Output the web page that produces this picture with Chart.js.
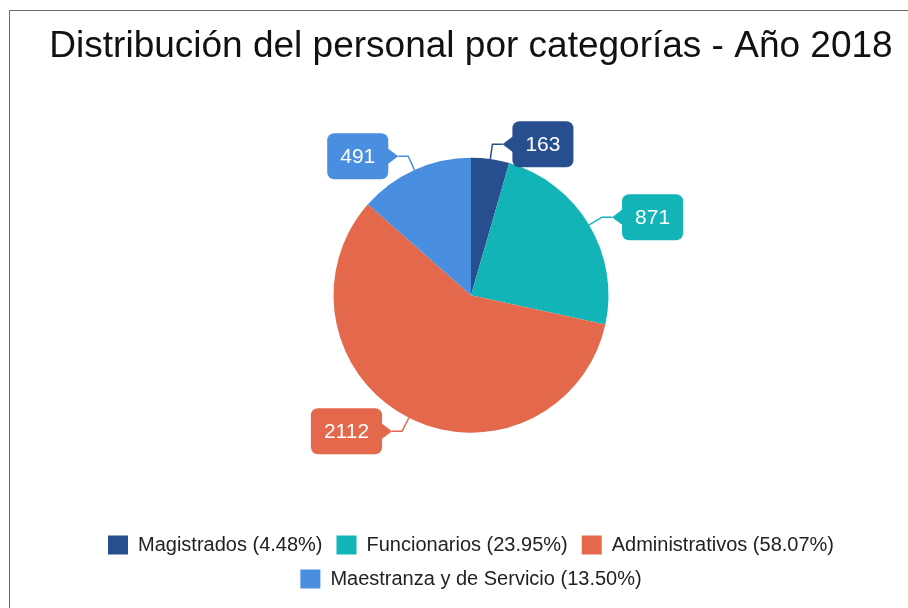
<!DOCTYPE html>
<html lang="es">
<head>
  <meta charset="UTF-8">
  <title>Distribución del personal por categorías - Año 2018</title>
  <script src="https://cdn.jsdelivr.net/npm/chart.js"></script>
  <style>
    html, body { margin: 0; padding: 0; background: #fff; overflow: hidden; }
    .frame {
      position: absolute; left: 9px; top: 10px;
      width: 922px; height: 598px;
      border-left: 1px solid #6a6a6a; border-top: 1px solid #6a6a6a;
    }
    .frame canvas { display: block; }
  </style>
</head>
<body>
  <div class="frame">
    <canvas id="pieChart" width="922" height="598"></canvas>
  </div>

  <script>
    // Datos
    const categories = ['Magistrados', 'Funcionarios', 'Administrativos', 'Maestranza y de Servicio'];
    const personal = [163, 871, 2112, 491];
    const colors = ['#274f8f', '#12b4b8', '#e4694c', '#4a8fdf'];

    const total = personal.reduce((a, b) => a + b, 0);
    const legendLabels = categories.map((c, i) => c + ' (' + (personal[i] / total * 100).toFixed(2) + '%)');

    const FONT = "'Liberation Sans', Arial, sans-serif";

    // Etiquetas tipo globo con línea guía
    const calloutPlugin = {
      id: 'callouts',
      afterDatasetsDraw(chart) {
        const ctx = chart.ctx;
        const meta = chart.getDatasetMeta(0);
        ctx.save();
        ctx.font = '21px ' + FONT;
        meta.data.forEach((arc, i) => {
          const p = arc.getProps(['x', 'y', 'startAngle', 'endAngle', 'outerRadius'], true);
          const mid = (p.startAngle + p.endAngle) / 2;
          const cos = Math.cos(mid), sin = Math.sin(mid);
          const ex = p.x + cos * p.outerRadius, ey = p.y + sin * p.outerRadius;
          const bx = p.x + cos * (p.outerRadius + 15), by = p.y + sin * (p.outerRadius + 15);
          const dir = cos >= 0 ? 1 : -1;
          const tipX = bx + dir * 10;
          const text = String(personal[i]);
          const w = ctx.measureText(text).width + 26;
          const h = 46;
          const boxNear = tipX + dir * 10;
          const left = dir > 0 ? boxNear : boxNear - w;
          const top = by - h / 2;

          ctx.strokeStyle = colors[i];
          ctx.lineWidth = 1.5;
          ctx.beginPath();
          ctx.moveTo(ex, ey);
          ctx.lineTo(bx, by);
          ctx.lineTo(tipX, by);
          ctx.stroke();

          ctx.fillStyle = colors[i];
          ctx.beginPath();
          ctx.roundRect(left, top, w, h, 7);
          ctx.fill();
          ctx.beginPath();
          ctx.moveTo(tipX, by);
          ctx.lineTo(boxNear + dir * 2, by - 9);
          ctx.lineTo(boxNear + dir * 2, by + 9);
          ctx.closePath();
          ctx.fill();

          ctx.fillStyle = '#ffffff';
          ctx.textAlign = 'center';
          ctx.textBaseline = 'middle';
          ctx.fillText(text, left + w / 2, by + 1);
        });
        ctx.restore();
      }
    };

    new Chart(document.getElementById('pieChart'), {
      type: 'pie',
      data: {
        labels: legendLabels,
        datasets: [{
          data: personal,
          backgroundColor: colors,
          borderWidth: 0,
          radius: 137.5
        }]
      },
      options: {
        responsive: false,
        animation: false,
        layout: { padding: { bottom: 10 } },
        plugins: {
          title: {
            display: true,
            text: 'Distribución del personal por categorías - Año 2018',
            color: '#111',
            font: { family: FONT, size: 37, weight: 'normal' },
            padding: { top: 14, bottom: 0 }
          },
          legend: {
            position: 'bottom',
            labels: {
              color: '#222',
              font: { family: FONT, size: 20 },
              boxWidth: 20,
              boxHeight: 19,
              padding: 14
            }
          },
          tooltip: { enabled: false }
        }
      },
      plugins: [calloutPlugin]
    });
  </script>
</body>
</html>
